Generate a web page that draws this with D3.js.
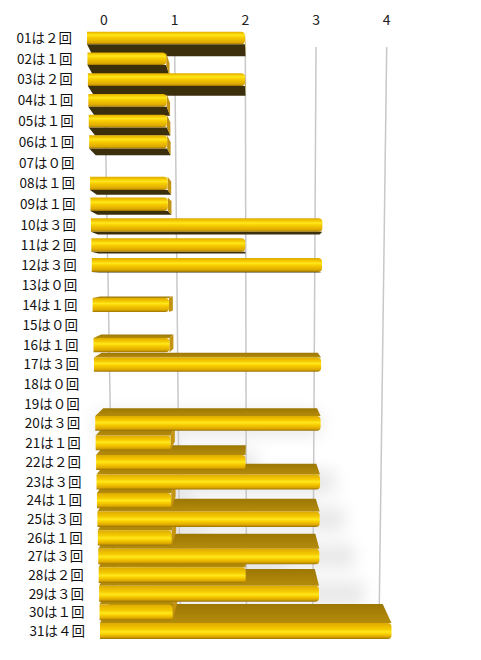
<!DOCTYPE html>
<html>
<head>
<meta charset="utf-8">
<script src="https://cdn.jsdelivr.net/npm/d3@7"></script>
<style>
html, body { margin: 0; padding: 0; background: #fff; }
svg { display: block; }
text { font-family: "Noto Sans CJK JP", "Noto Sans", sans-serif; }
</style>
</head>
<body>
<div id="chart"></div>
<script>
// data
const days = ["01","02","03","04","05","06","07","08","09","10","11","12","13","14","15","16",
              "17","18","19","20","21","22","23","24","25","26","27","28","29","30","31"];
const counts = [2,1,2,1,1,1,0,1,1,3,2,3,0,1,0,1,3,0,0,3,1,2,3,1,3,1,3,2,3,1,4];
const ticks = [0,1,2,3,4];
const wideDigits = ["０","１","２","３","４"];

const width = 481, height = 660;

// the chart is drawn in a tilted 3d look, so the scales change from row to row
const rowY = d3.scaleLinear().domain([1, 10, 16, 23, 31]).range([38, 225, 345, 482, 631]);
const faceH = d3.scaleLinear().domain([1, 31]).range([12.5, 16]);
const zeroX = d3.scaleLinear().domain([1, 31]).range([87, 100]);
const maxX = d3.scaleLinear().domain([1, 31]).range([403, 391.5]);
const xFront = r => d3.scaleLinear().domain([0, 4]).range([zeroX(r), maxX(r)]);

// offset of the bar's back face
const depthY = d3.scaleLinear().domain([1, 31]).range([12, -19]);
const depthX0 = d3.scaleLinear().domain([1, 31]).range([6, 9.2]);
const depthK = d3.scaleLinear().domain([1, 31]).range([2.75, 4.5]);
const eyeRow = depthY.invert(0);

// back wall with the gridlines
const wallTop = 47, wallBottom = 625;
const wallZero = d3.scaleLinear().domain([wallTop, wallBottom]).range([104, 114]);
const wallMax = d3.scaleLinear().domain([wallTop, wallBottom]).range([386.7, 379]);
const xWall = y => d3.scaleLinear().domain([0, 4]).range([wallZero(y), wallMax(y)]);

const highlight = d3.scaleLinear().domain([1, 31]).range([0.28, 0.55]);

const svg = d3.select('#chart')
      .append('svg')
      .attr('width', width)
      .attr('height', height)
      .attr('viewBox', [0, 0, width, height]);

const defs = svg.append('defs');
defs.append('filter')
    .attr('id', 'soft')
    .attr('x', '-50%').attr('y', '-50%').attr('width', '200%').attr('height', '200%')
    .append('feGaussianBlur')
    .attr('stdDeviation', 8);

const rows = days.map((d, i) => ({day: d, r: i + 1, v: counts[i]}));

// gradients for the front faces
rows.forEach(d => {
    const p = highlight(d.r);
    const g = defs.append('linearGradient')
          .attr('id', 'front' + d.day)
          .attr('x1', 0).attr('y1', 0).attr('x2', 0).attr('y2', 1);
    [[0, '#DDAA00'], [p - 0.15, '#F6CC00'], [p, '#FFE81E'], [p + 0.14, '#F9CF00'],
     [0.86, '#DDA800'], [1, '#9A7300']].forEach(s => {
        g.append('stop').attr('offset', s[0]).attr('stop-color', s[1]);
    });
});
const topGrad = defs.append('linearGradient')
      .attr('id', 'topface').attr('x1', 0).attr('y1', 0).attr('x2', 0).attr('y2', 1);
topGrad.append('stop').attr('offset', 0).attr('stop-color', '#9C7704');
topGrad.append('stop').attr('offset', 1).attr('stop-color', '#B48C0B');

// soft shadow on the wall
const shadowG = svg.append('g').attr('filter', 'url(#soft)');
shadowG.selectAll('rect')
    .data(rows.filter(d => d.r >= 20 && d.r <= 29 && d.v > 0))
    .join('rect')
    .attr('x', d => xFront(d.r)(0) + (d.r - 20) * 5)
    .attr('y', d => rowY(d.r) - 12)
    .attr('width', d => xFront(d.r)(d.v) - xFront(d.r)(0))
    .attr('height', 24)
    .attr('fill', '#E8E8E8');

// gridlines
svg.append('g')
    .selectAll('line')
    .data(ticks)
    .join('line')
    .attr('x1', t => xWall(wallTop)(t))
    .attr('y1', wallTop)
    .attr('x2', t => xWall(wallBottom)(t))
    .attr('y2', wallBottom)
    .attr('stroke', '#C8C8C8')
    .attr('stroke-width', 1.5);

// tick labels
svg.append('g')
    .selectAll('text')
    .data(ticks)
    .join('text')
    .attr('x', t => xWall(wallTop)(t))
    .attr('y', 25)
    .attr('text-anchor', 'middle')
    .attr('font-size', 14)
    .attr('fill', '#222')
    .text(t => t);

// row labels
svg.append('g')
    .selectAll('text')
    .data(rows)
    .join('text')
    .attr('x', d => zeroX(d.r) - 15)
    .attr('y', d => rowY(d.r))
    .attr('dy', '0.36em')
    .attr('text-anchor', 'end')
    .attr('font-size', 13.5)
    .attr('fill', '#111')
    .text(d => d.day + 'は' + wideDigits[d.v] + '回');

// bars, the ones far from eye level first
const poly = pts => 'M' + pts.map(p => p.join(',')).join('L') + 'Z';
const barsG = svg.append('g');
rows.filter(d => d.v > 0)
    .sort((a, b) => Math.abs(b.r - eyeRow) - Math.abs(a.r - eyeRow))
    .forEach(d => {
        const x = xFront(d.r);
        const xl = x(0), xr = x(d.v);
        const h = faceH(d.r);
        const yt = rowY(d.r) - h / 2, yb = yt + h;
        const dy = depthY(d.r);
        const dxl = depthX0(d.r), dxr = depthX0(d.r) - depthK(d.r) * d.v;
        const g = barsG.append('g');
        if (dy > 0.4) {
            g.append('path')
                .attr('d', poly([[xl, yb], [xr, yb], [xr + dxr, yb + dy], [xl + dxl, yb + dy]]))
                .attr('fill', '#3B2F0C');
        }
        if (dy < -0.4) {
            g.append('path')
                .attr('d', poly([[xl, yt], [xr, yt], [xr + dxr, yt + dy], [xl + dxl, yt + dy]]))
                .attr('fill', 'url(#topface)');
        }
        if (dxr > 0.4) {
            g.append('path')
                .attr('d', poly([[xr, yt], [xr + dxr, yt + dy], [xr + dxr, yb + dy], [xr, yb]]))
                .attr('fill', '#C39412');
        }
        const rc = Math.min(4, h / 3);
        g.append('path')
            .attr('d', `M${xl},${yt}H${xr - rc}Q${xr},${yt} ${xr},${yt + rc}V${yb - rc}` +
                       `Q${xr},${yb} ${xr - rc},${yb}H${xl}Z`)
            .attr('fill', `url(#front${d.day})`);
    });
</script>
</body>
</html>
